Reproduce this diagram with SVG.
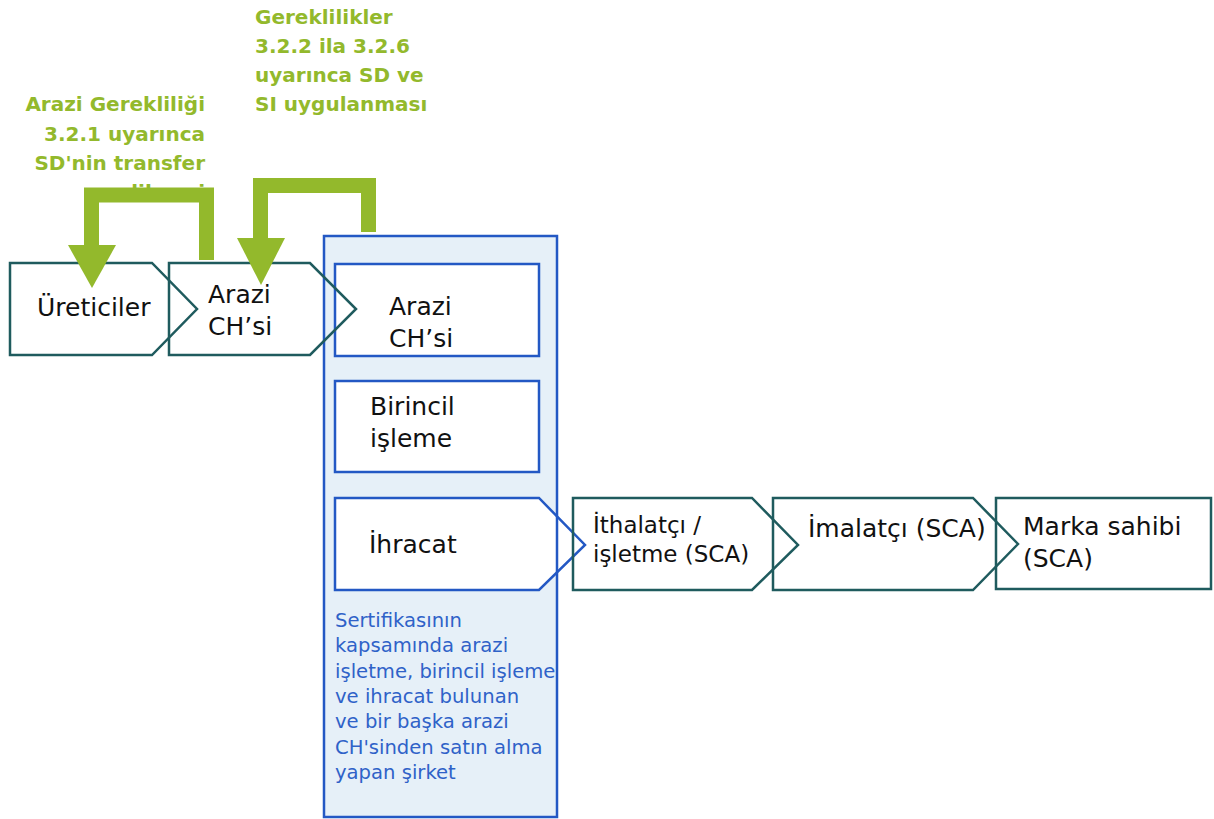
<svg xmlns="http://www.w3.org/2000/svg" width="1214" height="819" viewBox="0 0 1214 819">
<style>
.teal{fill:none;stroke:#1f5b5e;stroke-width:2.5;stroke-linejoin:miter}
.blue{fill:#ffffff;stroke:#2358c4;stroke-width:2.5}
.lbl{font-family:"DejaVu Sans",sans-serif;font-size:25px;fill:#111111}
.sm{font-size:23px}
.grn{font-family:"DejaVu Sans",sans-serif;font-size:20px;font-weight:bold;fill:#93b92c}
.note{font-family:"DejaVu Sans",sans-serif;font-size:19.6px;fill:#2f62c8}
.bar{fill:none;stroke:#93b92c;stroke-width:15;stroke-linejoin:miter}
.head{fill:#93b92c}
</style>
<rect width="1214" height="819" fill="#ffffff"/>
<g id="container">
<rect x="324" y="236" width="233" height="581" fill="#e6f0f8"/>
</g>
<g id="arazi-ch-2">
<rect class="blue" x="335" y="264" width="204" height="92"/>
<text class="lbl" x="389" y="315">Arazi</text>
<text class="lbl" x="389" y="347">CH’si</text>
</g>
<g id="birincil">
<rect class="blue" x="335" y="381" width="204" height="91"/>
<text class="lbl" x="370" y="415">Birincil</text>
<text class="lbl" x="370" y="447">işleme</text>
</g>
<g id="ihracat">
<polygon class="blue" points="335,498 539,498 585,545 539,590 335,590"/>
<text class="lbl" x="369" y="553">İhracat</text>
</g>
<g id="container-border">
<rect x="324" y="236" width="233" height="581" fill="none" stroke="#2358c4" stroke-width="2.5"/>
<text class="note" x="335" y="627">Sertifikasının</text>
<text class="note" x="335" y="652">kapsamında arazi</text>
<text class="note" x="335" y="678">işletme, birincil işleme</text>
<text class="note" x="335" y="703">ve ihracat bulunan</text>
<text class="note" x="335" y="728">ve bir başka arazi</text>
<text class="note" x="335" y="754">CH'sinden satın alma</text>
<text class="note" x="335" y="779">yapan şirket</text>
</g>
<g id="ureticiler">
<polygon class="teal" points="10,263 152,263 197,309 152,355 10,355"/>
<text class="lbl" x="37" y="316">Üreticiler</text>
</g>
<g id="arazi-ch-1">
<polygon class="teal" points="169,263 310,263 356,309 310,355 169,355"/>
<text class="lbl" x="208" y="303">Arazi</text>
<text class="lbl" x="208" y="335">CH’si</text>
</g>
<g id="ithalatci">
<polygon class="teal" points="573,498 752,498 798,545 752,590 573,590"/>
<text class="lbl sm" x="593" y="533">İthalatçı /</text>
<text class="lbl sm" x="593" y="562">işletme (SCA)</text>
</g>
<g id="imalatci">
<polygon class="teal" points="773,498 973,498 1018,544 973,590 773,590"/>
<text class="lbl" x="808" y="537">İmalatçı (SCA)</text>
</g>
<g id="marka">
<rect class="teal" x="996" y="498" width="215" height="91"/>
<text class="lbl" x="1023" y="535">Marka sahibi</text>
<text class="lbl" x="1023" y="567">(SCA)</text>
</g>
<g id="label-321">
<text class="grn" x="205" y="111" text-anchor="end">Arazi Gerekliliği</text>
<text class="grn" x="205" y="141" text-anchor="end">3.2.1 uyarınca</text>
<text class="grn" x="205" y="170" text-anchor="end">SD'nin transfer</text>
<text class="grn" x="205" y="199" text-anchor="end">edilmesi</text>
</g>
<g id="label-322">
<text class="grn" x="255" y="24">Gereklilikler</text>
<text class="grn" x="255" y="53">3.2.2 ila 3.2.6</text>
<text class="grn" x="255" y="82">uyarınca SD ve</text>
<text class="grn" x="255" y="111">SI uygulanması</text>
</g>
<g id="connectors">
<polyline class="bar" points="206.5,260 206.5,195 91.5,195 91.5,246"/>
<polygon class="head" points="68,245 116,245 92,288"/>
<polyline class="bar" points="368.5,232 368.5,185.5 260.5,185.5 260.5,239"/>
<polygon class="head" points="237,238 285,238 261,285"/>
</g>
</svg>
